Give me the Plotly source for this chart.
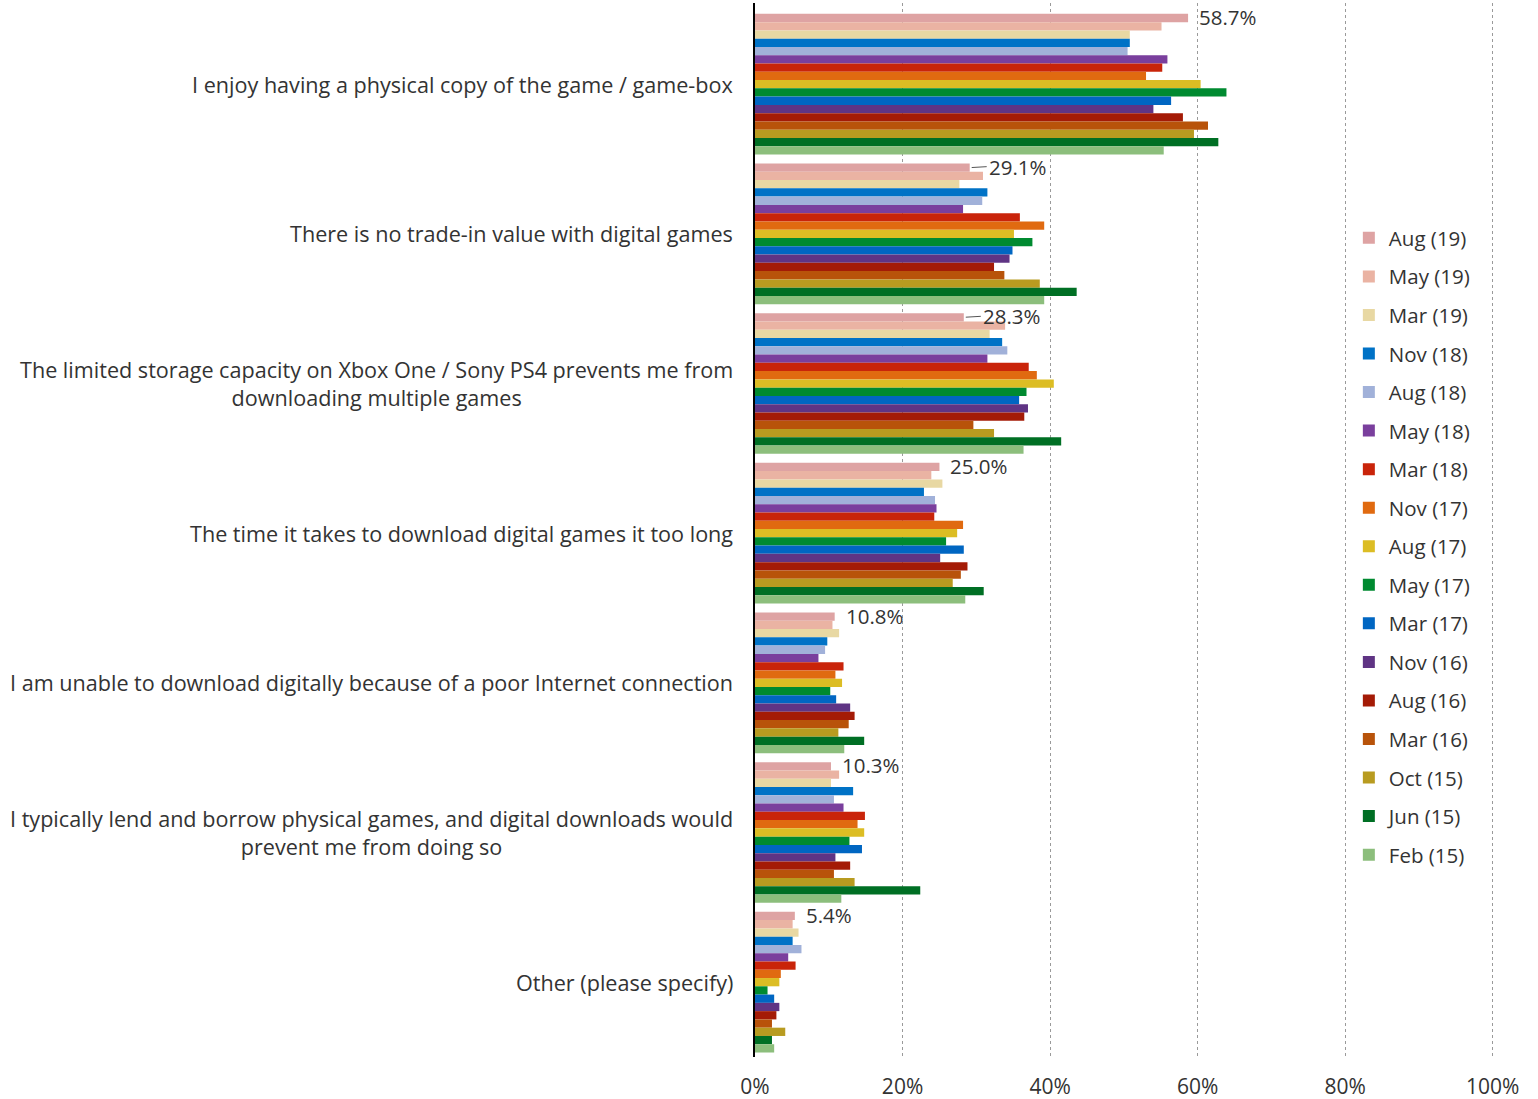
import plotly.graph_objects as go

# Reasons for preferring physical games, share of respondents by survey wave
categories = [
    "I enjoy having a physical copy of the game / game-box",
    "There is no trade-in value with digital games",
    "The limited storage capacity on Xbox One / Sony PS4 prevents me from<br>downloading multiple games",
    "The time it takes to download digital games it too long",
    "I am unable to download digitally because of a poor Internet connection",
    "I typically lend and borrow physical games, and digital downloads would<br>prevent me from doing so",
    "Other (please specify)",
]

waves = ["Aug (19)", "May (19)", "Mar (19)", "Nov (18)", "Aug (18)", "May (18)",
         "Mar (18)", "Nov (17)", "Aug (17)", "May (17)", "Mar (17)", "Nov (16)",
         "Aug (16)", "Mar (16)", "Oct (15)", "Jun (15)", "Feb (15)"]

aug19 = [58.7, 29.1, 28.3, 25.0, 10.8, 10.3, 5.4]
may19 = [55.1, 30.9, 33.9, 23.9, 10.5, 11.4, 5.1]
mar19 = [50.8, 27.7, 31.8, 25.4, 11.4, 10.3, 5.9]
nov18 = [50.8, 31.5, 33.5, 22.9, 9.8, 13.3, 5.1]
aug18 = [50.5, 30.8, 34.2, 24.4, 9.5, 10.7, 6.3]
may18 = [55.9, 28.2, 31.5, 24.6, 8.6, 12.0, 4.5]
mar18 = [55.2, 35.9, 37.1, 24.3, 12.0, 14.9, 5.5]
nov17 = [53.0, 39.2, 38.2, 28.2, 10.9, 13.9, 3.5]
aug17 = [60.4, 35.1, 40.5, 27.4, 11.8, 14.8, 3.3]
may17 = [63.9, 37.6, 36.8, 25.9, 10.2, 12.8, 1.7]
mar17 = [56.4, 34.9, 35.8, 28.3, 11.0, 14.5, 2.6]
nov16 = [54.0, 34.5, 37.0, 25.1, 12.9, 10.9, 3.3]
aug16 = [58.0, 32.4, 36.5, 28.8, 13.5, 12.9, 2.9]
mar16 = [61.4, 33.8, 29.6, 27.9, 12.7, 10.7, 2.3]
oct15 = [59.5, 38.6, 32.4, 26.8, 11.3, 13.5, 4.1]
jun15 = [62.8, 43.6, 41.5, 31.0, 14.8, 22.4, 2.3]
feb15 = [55.4, 39.2, 36.4, 28.5, 12.1, 11.7, 2.6]

series = [aug19, may19, mar19, nov18, aug18, may18, mar18, nov17, aug17,
          may17, mar17, nov16, aug16, mar16, oct15, jun15, feb15]

colors = ["#dea3a3", "#eab3a3", "#e8d8a3", "#0072c6", "#a1b1d9", "#7a3f9d",
          "#c9240a", "#e06a10", "#dcbd24", "#008a30", "#0066c2", "#5f3484",
          "#a41b06", "#b8530a", "#b89b20", "#006f24", "#8cbe7c"]

FONT = "'Open Sans', 'Noto Sans', sans-serif"
TEXT = "#333333"
BARGAP = 0.06

fig = go.Figure()
for name, vals, col in zip(waves, series, colors):
    fig.add_trace(go.Bar(
        y=categories, x=vals, name=name, orientation="h",
        marker=dict(color=col, line=dict(width=0)),
        legendgroup=name,
        hoverinfo="x+name",
    ))

annotations = []
# category labels, right-aligned block with centred lines
for i, cat in enumerate(categories):
    annotations.append(dict(
        xref="paper", yref="y", x=0, y=i, text=cat, showarrow=False,
        xanchor="right", yanchor="middle", xshift=-20, align="center",
        font=dict(family=FONT, size=21.6, color=TEXT),
    ))

# value labels for the latest wave (top bar of each group)
n = len(series)
first_offset = -(1 - BARGAP) / 2 + (1 - BARGAP) / (2 * n)
for i, v in enumerate(aug19):
    leader = may19[i] - v > 1.5
    ann = dict(
        xref="x", yref="y", x=v, y=i + first_offset,
        text=f"{v:.1f}%", xanchor="left", yanchor="middle",
        font=dict(family=FONT, size=20.5, color=TEXT),
    )
    if leader:
        ann.update(showarrow=True, ax=17, ay=-1, arrowhead=0, arrowwidth=1,
                   arrowcolor="#555555", standoff=2, yshift=0)
    else:
        ann.update(showarrow=False, xshift=9, yshift=1)
    annotations.append(ann)

fig.update_layout(
    barmode="group",
    bargap=BARGAP,
    bargroupgap=0,
    width=1538, height=1099,
    margin=dict(l=755, r=43, t=3, b=42, autoexpand=False),
    paper_bgcolor="white",
    plot_bgcolor="white",
    font=dict(family=FONT, size=20, color=TEXT),
    showlegend=True,
    legend=dict(
        x=0.8025, xanchor="left", y=0.4843, yanchor="middle",
        font=dict(family=FONT, size=20.5, color=TEXT),
        tracegroupgap=8.9, bgcolor="rgba(0,0,0,0)",
    ),
    xaxis=dict(
        range=[0, 100.3], tickvals=[0, 20, 40, 60, 80, 100],
        ticktext=["0%", "20%", "40%", "60%", "80%", "100%"],
        showgrid=True, gridcolor="#9a9a9a", griddash="dot", gridwidth=1,
        zeroline=False, showline=False, ticks="",
        ticklabelstandoff=15, automargin=False,
        tickfont=dict(family=FONT, size=21, color=TEXT),
    ),
    yaxis=dict(
        type="category", autorange="reversed", showticklabels=False,
        showgrid=False, showline=True, linecolor="black", linewidth=1.5,
        ticks="", zeroline=False, automargin=False,
    ),
    annotations=annotations,
)

fig.write_html("out.html")
